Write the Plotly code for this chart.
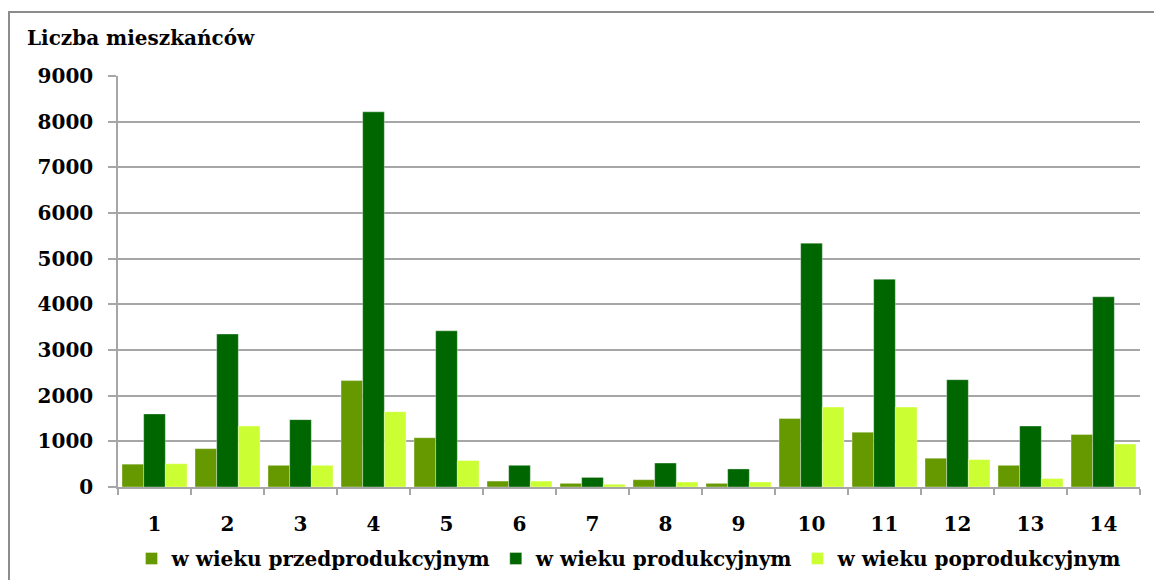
import plotly.graph_objects as go

# Data
districts = [str(i) for i in range(1, 15)]
przedprodukcyjny = [500, 840, 475, 2330, 1080, 130, 80, 160, 80, 1500, 1200, 630, 475, 1150]
produkcyjny = [1600, 3350, 1475, 8215, 3420, 475, 210, 525, 395, 5340, 4550, 2350, 1335, 4165]
poprodukcyjny = [510, 1335, 475, 1650, 580, 130, 60, 110, 110, 1750, 1750, 600, 185, 940]

series_names = ["w wieku przedprodukcyjnym", "w wieku produkcyjnym", "w wieku poprodukcyjnym"]
colors = ["#669900", "#006600", "#CCFF33"]

FONT = "DejaVu Serif"

# page body has an 8px margin, so the figure is sized to fit inside the window
W, H = 1146, 572
L, R, T, B = 110, 14, 68, 93
plot_w = W - L - R
plot_h = H - T - B

fig = go.Figure()
for name, values, color in zip(series_names, [przedprodukcyjny, produkcyjny, poprodukcyjny], colors):
    fig.add_trace(go.Bar(
        x=districts,
        y=values,
        name=name,
        marker=dict(color=color, line=dict(color="rgba(255,255,255,0.35)", width=1)),
    ))

# Outer frame of the chart area
fig.add_shape(type="rect", xref="paper", yref="paper",
              x0=-(L - 1) / plot_w, x1=1.05, y0=-(B + 10) / plot_h, y1=(plot_h + T - 4) / plot_h,
              line=dict(color="#8c8c8c", width=2), fillcolor="rgba(0,0,0,0)", layer="below")

fig.update_layout(
    width=W,
    height=H,
    margin=dict(l=L, r=R, t=T, b=B, autoexpand=False),
    paper_bgcolor="white",
    plot_bgcolor="white",
    barmode="group",
    bargap=0.11,
    bargroupgap=0,
    font=dict(family=FONT, color="black", size=18),
    title=dict(
        text="<b>Liczba mieszkańców</b>",
        x=19 / W, xanchor="left",
        y=1 - 30 / H, yanchor="middle",
        font=dict(family=FONT, size=20, color="black"),
    ),
    legend=dict(
        orientation="h",
        x=0.5, xanchor="center",
        y=-(B - 2) / plot_h, yanchor="bottom",
        font=dict(family=FONT, size=20, color="black", weight="bold"),
        itemwidth=30,
        traceorder="normal",
    ),
    showlegend=True,
)

fig.update_yaxes(
    range=[0, 9000],
    dtick=1000,
    showgrid=True,
    gridcolor="#a6a6a6",
    gridwidth=1.5,
    showline=True,
    linecolor="#a6a6a6",
    linewidth=1.5,
    ticks="outside",
    ticklen=8,
    tickcolor="#a6a6a6",
    tickwidth=1.5,
    ticklabelstandoff=11,
    tickfont=dict(family=FONT, size=20, color="black", weight="bold"),
    zeroline=False,
)

fig.update_xaxes(
    showline=True,
    linecolor="#a6a6a6",
    linewidth=1.5,
    ticks="outside",
    tickson="boundaries",
    ticklen=6,
    tickcolor="#a6a6a6",
    tickwidth=1.5,
    ticklabelstandoff=18,
    tickfont=dict(family=FONT, size=20, color="black", weight="bold"),
)

fig.write_html("out.html")
